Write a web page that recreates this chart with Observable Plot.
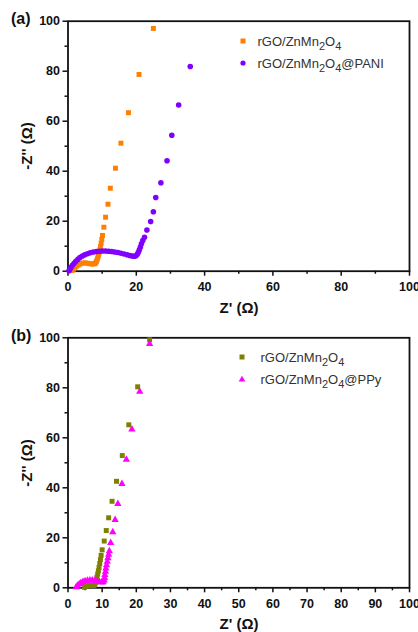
<!DOCTYPE html>
<html>
<head>
<meta charset="utf-8">
<script src="https://cdn.jsdelivr.net/npm/d3@7"></script>
<script src="https://cdn.jsdelivr.net/npm/@observablehq/plot@0.6"></script>
<style>
  html, body { margin: 0; padding: 0; background: #fff; }
  #wrap { position: relative; width: 418px; height: 632px; font-family: "Liberation Sans", Arial, sans-serif; }
  #wrap svg { display: block; }
  .ov { position: absolute; white-space: nowrap; }
  .axt { font-weight: bold; font-size: 15px; color: #111; transform: translate(-50%, -50%); }
  .axt.rot { transform: translate(-50%, -50%) rotate(-90deg); }
  .pl { font-weight: bold; font-size: 16px; color: #111; transform: translate(0, -50%); }
  .lg { font-size: 13px; color: #333; line-height: 16px; }
  .lg sub { font-size: 11px; vertical-align: -4px; line-height: 0; }
</style>
</head>
<body>
<div id="wrap"></div>
<script>
// ---- tick values ----
const xMajorA = [0, 20, 40, 60, 80, 100];
const xMinorA = [10, 30, 50, 70, 90];
const xMajorB = [0, 10, 20, 30, 40, 50, 60, 70, 80, 90, 100];
const xMinorB = [5, 15, 25, 35, 45, 55, 65, 75, 85, 95];
const yMajor = [0, 20, 40, 60, 80, 100];
const yMinor = [10, 30, 50, 70, 90];

// ---- series names ----
const namesA = ["rGO/ZnMn<sub>2</sub>O<sub>4</sub>", "rGO/ZnMn<sub>2</sub>O<sub>4</sub>@PANI"];
const namesB = ["rGO/ZnMn<sub>2</sub>O<sub>4</sub>", "rGO/ZnMn<sub>2</sub>O<sub>4</sub>@PPy"];

// ---- panel (a): rGO/ZnMn2O4 [Z', -Z''] ----
const rgoA = [
  [1.2,0.3],[1.6,0.8],[2.0,1.4],[2.4,1.9],[2.9,2.4],[3.4,2.8],[3.9,3.1],[4.5,3.3],
  [5.1,3.3],[5.7,3.2],[6.3,3.0],[6.9,2.9],[7.4,2.9],[7.8,3.0],[8.1,3.3],[8.3,3.8],
  [8.5,4.5],[8.7,5.3],[8.9,6.2],[9.1,7.3],[9.3,8.5],[9.5,9.8],[9.7,11.2],[9.9,12.7],
  [10.1,14.3],[10.5,17.6],[11.0,21.6],[11.7,26.8],[12.4,33.2],[13.9,41.2],[15.5,51.2],
  [17.7,63.4],[20.8,78.7],[25.0,97.1]
];
// ---- panel (a): rGO/ZnMn2O4@PANI ----
const paniA = [
  [0.3,0.2],[0.6,0.9],[0.9,1.6],[1.3,2.4],[1.8,3.2],[2.3,4.0],[2.9,4.8],[3.5,5.5],
  [4.2,6.1],[4.9,6.6],[5.7,7.0],[6.5,7.4],[7.4,7.7],[8.3,7.9],[9.2,8.0],[10.1,8.1],
  [11.0,8.1],[11.9,8.0],[12.8,7.9],[13.7,7.7],[14.6,7.5],[15.5,7.2],[16.4,6.9],
  [17.3,6.6],[18.1,6.3],[18.8,6.1],[19.4,6.0],[19.9,6.2],[20.3,6.8],[20.6,7.6],
  [20.9,8.6],[21.2,9.7],[21.5,11.0],[21.9,12.3],[22.4,13.6],[23.1,16.5],[24.2,19.9],
  [25.0,23.8],[25.7,29.5],[27.2,35.4],[29.0,44.2],[30.4,54.4],[32.4,66.5],[35.8,81.9]
];
// ---- panel (b): rGO/ZnMn2O4 ----
const rgoB = [
  [4.8,0.2],[5.3,0.6],[5.9,0.9],[6.5,1.0],[7.1,0.9],[7.6,0.9],[7.9,1.4],[8.1,2.2],
  [8.3,3.2],[8.5,4.3],[8.7,5.5],[8.9,6.8],[9.1,8.2],[9.3,9.7],[9.5,11.3],[9.7,13.0],
  [10.0,15.2],[10.6,18.7],[11.2,22.9],[11.9,28.0],[12.9,34.6],[14.2,42.6],[15.9,52.9],
  [17.8,65.2],[20.4,80.4],[23.9,99.2]
];
// ---- panel (b): rGO/ZnMn2O4@PPy ----
const ppyB = [
  [2.4,0.3],[2.8,0.9],[3.3,1.5],[3.8,2.0],[4.4,2.4],[5.0,2.7],[5.7,2.9],[6.4,3.0],
  [7.1,3.0],[7.8,2.9],[8.5,2.7],[9.2,2.4],[9.8,2.2],[10.3,2.3],[10.6,3.0],[10.7,4.0],
  [10.8,5.2],[11.0,6.5],[11.1,7.8],[11.3,9.1],[11.5,10.5],[11.7,11.9],[11.9,13.3],
  [12.1,14.7],[12.5,18.0],[13.1,22.3],[13.8,27.2],[14.6,33.6],[15.8,41.6],[17.1,51.3],
  [18.7,63.4],[21.0,78.5],[23.9,97.6]
];

const colA = ["#FF7F00", "#7F00FF"];
const colB = ["#808000", "#FF00FF"];

const FONT = "'Liberation Sans', Arial, sans-serif";
const W = 418, H = 316, ML = 67.5, MR = 9;

function panel(xMaj, xMin, series, marginTop) {
  return Plot.plot({
    width: W, height: H,
    marginLeft: ML, marginRight: MR, marginTop: marginTop, marginBottom: H - marginTop - 250,
    x: {domain: [0, 100]},
    y: {domain: [0, 100]},
    style: {fontFamily: FONT, fontSize: "12.5px", fontWeight: "bold", color: "#111", background: "#fff", overflow: "visible"},
    marks: [
      Plot.axisX(xMaj, {tickSize: 5, tickPadding: 6, strokeWidth: 1.5, label: null, fontWeight: "bold"}),
      Plot.axisX(xMin, {tickSize: 3, strokeWidth: 1.5, tickFormat: () => "", label: null}),
      Plot.axisY(yMajor, {tickSize: 5, tickPadding: 3, strokeWidth: 1.5, label: null, fontWeight: "bold"}),
      Plot.axisY(yMinor, {tickSize: 3, strokeWidth: 1.5, tickFormat: () => "", label: null}),
      Plot.frame({stroke: "#111", strokeWidth: 1.8}),
      ...series.map(s => Plot.dot(s.data, {x: d => d[0], y: d => d[1], symbol: s.symbol, fill: s.color, r: s.r, stroke: "none"}))
    ]
  });
}

const wrap = document.getElementById("wrap");
wrap.appendChild(panel(xMajorA, xMinorA, [
  {data: rgoA, symbol: "square", color: colA[0], r: 2.8},
  {data: paniA, symbol: "circle", color: colA[1], r: 2.8}
], 20.7));
wrap.appendChild(panel(xMajorB, xMinorB, [
  {data: rgoB, symbol: "square", color: colB[0], r: 2.8},
  {data: ppyB, symbol: "triangle", color: colB[1], r: 2.7}
], 21.3));

function ov(cls, html, left, top) {
  const d = document.createElement("div");
  d.className = "ov " + cls;
  d.innerHTML = html;
  d.style.left = left + "px";
  d.style.top = top + "px";
  wrap.appendChild(d);
  return d;
}
// panel labels
ov("pl", "(a)", 11, 19);
ov("pl", "(b)", 11, 336);
// axis titles
ov("axt", "Z' (&Omega;)", 239, 306.5);
ov("axt", "Z' (&Omega;)", 239, 622.5);
ov("axt rot", "-Z'' (&Omega;)", 26, 146);
ov("axt rot", "-Z'' (&Omega;)", 26, 462.5);

// legends
function marker(shape, color, cx, cy) {
  const s = document.createElementNS("http://www.w3.org/2000/svg", "svg");
  s.setAttribute("width", 10); s.setAttribute("height", 10);
  s.style.position = "absolute";
  s.style.left = (cx - 5) + "px"; s.style.top = (cy - 5) + "px";
  let el;
  if (shape === "square") {
    el = document.createElementNS(s.namespaceURI, "rect");
    el.setAttribute("x", 2.5); el.setAttribute("y", 2.5); el.setAttribute("width", 5); el.setAttribute("height", 5);
  } else if (shape === "circle") {
    el = document.createElementNS(s.namespaceURI, "circle");
    el.setAttribute("cx", 5); el.setAttribute("cy", 5); el.setAttribute("r", 2.6);
  } else {
    el = document.createElementNS(s.namespaceURI, "polygon");
    el.setAttribute("points", "5,1.8 8.3,7.6 1.7,7.6");
  }
  el.setAttribute("fill", color);
  s.appendChild(el);
  wrap.appendChild(s);
}
marker("square", colA[0], 242.7, 41.3);
marker("circle", colA[1], 242.7, 63.3);
ov("lg", namesA[0], 257.5, 41.3 - 7);
ov("lg", namesA[1], 257.5, 63.3 - 7);
marker("square", colB[0], 242.3, 356.7);
marker("triangle", colB[1], 242.3, 379);
ov("lg", namesB[0], 260.5, 356.7 - 7);
ov("lg", namesB[1], 260.5, 379 - 7);
</script>
</body>
</html>
